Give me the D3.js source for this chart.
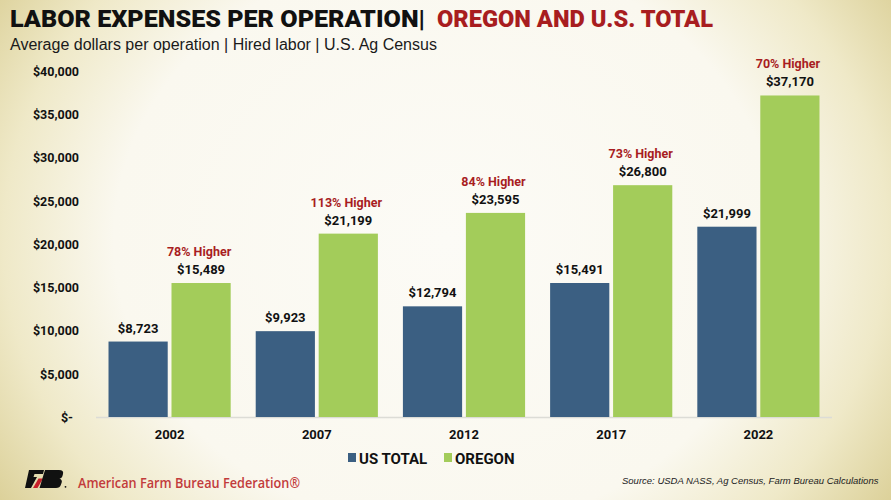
<!DOCTYPE html>
<html>
<head>
<meta charset="utf-8">
<script src="https://cdn.jsdelivr.net/npm/d3@7"></script>
<style>
html,body{margin:0;padding:0;background:#fbf9f1;}
svg{display:block;}
</style>
</head>
<body>
<svg id="chart" width="891" height="500"></svg>
<script>
const years = ["2002", "2007", "2012", "2017", "2022"];
const usTotal = [8723, 9923, 12794, 15491, 21999];
const oregon = [15489, 21199, 23595, 26800, 37170];
const higherLabels = ["78% Higher", "113% Higher", "84% Higher", "73% Higher", "70% Higher"];
const seriesNames = ["US TOTAL", "OREGON"];
const yTicks = [0, 5000, 10000, 15000, 20000, 25000, 30000, 35000, 40000];

const colors = {"US TOTAL": "#3b5f82", "OREGON": "#a3cc5a"};
const red = "#a81d1f";
const boldFont = "'Roboto', 'Liberation Sans', sans-serif";

const svg = d3.select("#chart");
const W = 891, H = 500;

// background
const defs = svg.append("defs");
const rg = defs.append("radialGradient").attr("id", "bg")
  .attr("cx", "50%").attr("cy", "48%").attr("r", "62%")
  .attr("gradientTransform", "translate(0.5,0.48) scale(1,1.55) translate(-0.5,-0.48)");
rg.append("stop").attr("offset", "0%").attr("stop-color", "#fcfbf6");
rg.append("stop").attr("offset", "60%").attr("stop-color", "#faf8ef");
rg.append("stop").attr("offset", "80%").attr("stop-color", "#efe9c8");
rg.append("stop").attr("offset", "100%").attr("stop-color", "#d9cd92");
svg.append("rect").attr("width", W).attr("height", H).attr("fill", "url(#bg)");

// scales
const x0 = d3.scaleBand().domain(years).range([96, 832]).paddingInner(0.17).paddingOuter(0.085);
const x1 = d3.scaleBand().domain(seriesNames).range([0, x0.bandwidth()]).paddingInner(0.06);
const y = d3.scaleLinear().domain([0, 40000]).range([417, 71]);

// y axis
const yAxis = d3.axisLeft(y).tickValues(yTicks).tickSize(0)
  .tickFormat(d => d === 0 ? "$-" : "$" + d3.format(",")(d));
const ya = svg.append("g").attr("transform", "translate(82,0)").call(yAxis);
ya.select(".domain").remove();
ya.selectAll("text").attr("font-family", boldFont).attr("font-weight", 700)
  .attr("font-size", 12.5).attr("fill", "#111").attr("dy", "0.35em")
  .attr("dx", d => d === 0 ? -6 : 0);

// baseline
svg.append("line").attr("x1", 96).attr("x2", 832).attr("y1", y(0) + 0.5).attr("y2", y(0) + 0.5)
  .attr("stroke", "#dcdcd6").attr("stroke-width", 1.5);

// bars
const data = years.map((yr, i) => ({year: yr, values: [
  {key: "US TOTAL", value: usTotal[i]},
  {key: "OREGON", value: oregon[i]}
], higher: higherLabels[i]}));

const groups = svg.append("g").selectAll("g").data(data).join("g")
  .attr("transform", d => `translate(${x0(d.year)},0)`);

groups.selectAll("rect").data(d => d.values).join("rect")
  .attr("x", d => x1(d.key)).attr("width", x1.bandwidth())
  .attr("y", d => y(d.value)).attr("height", d => y(0) - y(d.value))
  .attr("fill", d => colors[d.key]);

groups.selectAll("text.val").data(d => d.values).join("text").attr("class", "val")
  .attr("x", d => x1(d.key) + x1.bandwidth() / 2)
  .attr("y", d => y(d.value) - 9)
  .attr("text-anchor", "middle")
  .attr("font-family", boldFont).attr("font-weight", 700).attr("font-size", 13)
  .attr("fill", "#111")
  .text(d => "$" + d3.format(",")(d.value));

groups.append("text")
  .attr("x", x1("OREGON") + x1.bandwidth() / 2 - 2)
  .attr("y", d => y(d.values[1].value) - 27)
  .attr("text-anchor", "middle")
  .attr("font-family", boldFont).attr("font-weight", 700).attr("font-size", 12.5)
  .attr("fill", red)
  .text(d => d.higher);

// x axis labels
svg.append("g").selectAll("text").data(years).join("text")
  .attr("x", d => x0(d) + x0.bandwidth() / 2)
  .attr("y", 439)
  .attr("text-anchor", "middle")
  .attr("font-family", boldFont).attr("font-weight", 700).attr("font-size", 13)
  .attr("fill", "#111")
  .text(d => d);

// title
function fitText(sel, target) {
  sel.attr("textLength", target).attr("lengthAdjust", "spacingAndGlyphs");
}
const t1 = svg.append("text").attr("x", 10).attr("y", 27)
  .attr("font-family", boldFont).attr("font-weight", 900).attr("font-size", 23)
  .attr("fill", "#111").text("LABOR EXPENSES PER OPERATION|");
fitText(t1, 415);
const t2 = svg.append("text").attr("x", 437).attr("y", 27)
  .attr("font-family", boldFont).attr("font-weight", 900).attr("font-size", 23)
  .attr("fill", red).text("OREGON AND U.S. TOTAL");
fitText(t2, 276);

svg.append("text").attr("x", 10).attr("y", 50)
  .attr("font-family", "'Liberation Sans', Arial, sans-serif").attr("font-size", 16)
  .attr("fill", "#1a1a1a")
  .text("Average dollars per operation | Hired labor | U.S. Ag Census");

// legend
const legend = svg.append("g");
const legendItems = [{name: "US TOTAL", x: 348}, {name: "OREGON", x: 444}];
legendItems.forEach(it => {
  legend.append("rect").attr("x", it.x).attr("y", 453).attr("width", 8).attr("height", 9)
    .attr("fill", colors[it.name]);
  legend.append("text").attr("x", it.x + 11).attr("y", 464)
    .attr("font-family", boldFont).attr("font-weight", 700).attr("font-size", 15)
    .attr("fill", "#111").text(it.name);
});

// logo (simplified Farm Bureau mark)
const logo = svg.append("g").attr("transform", "translate(25,470)");
logo.append("path").attr("d", "M4,0 L19,0 L18,4 L9.5,4 L8.5,7 L12,7 L6,18 L0,18 Z").attr("fill", "#111");
logo.append("path").attr("d", "M13.5,8.5 L18,8.5 L12.5,18 L8,18 Z").attr("fill", "#c8202a");
logo.append("path").attr("d", "M20,0 L34,0 Q39,0 38,4 L37.3,6.5 Q36.6,8.3 34.5,8.8 Q37.5,9.8 36.7,12.5 L35.8,15 Q35,18 31,18 L14.5,18 Z").attr("fill", "#111");
logo.append("circle").attr("cx", 40.5).attr("cy", 16.8).attr("r", 0.9).attr("fill", "#111");

svg.append("text").attr("x", 78).attr("y", 488)
  .attr("font-family", "'Open Sans', 'Noto Sans', sans-serif").attr("font-weight", 600)
  .attr("font-size", 14).attr("fill", "#c23b3b")
  .attr("textLength", 222).attr("lengthAdjust", "spacingAndGlyphs")
  .text("American Farm Bureau Federation®");

svg.append("text").attr("x", 622).attr("y", 484)
  .attr("font-family", "'Liberation Sans', Arial, sans-serif").attr("font-style", "italic")
  .attr("font-size", 9.5).attr("fill", "#222")
  .text("Source: USDA NASS, Ag Census, Farm Bureau Calculations");
</script>
</body>
</html>
